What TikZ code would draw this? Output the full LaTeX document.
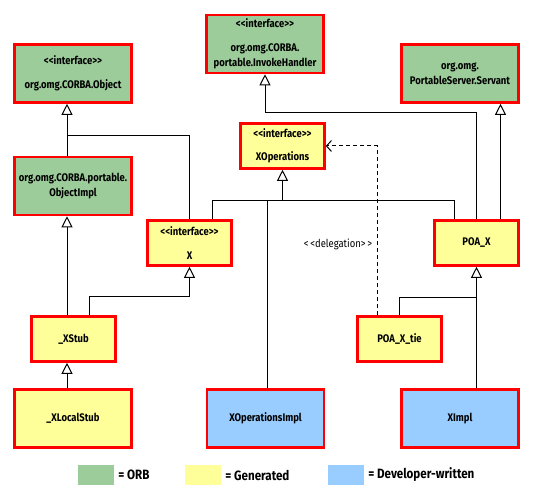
\documentclass[tikz,border=0pt]{standalone}
\usepackage{fontspec}
\setmainfont{Fira Sans}[FakeStretch=0.86]
\usetikzlibrary{arrows.meta,positioning,calc}
\definecolor{orbgreen}{RGB}{155,204,153}
\definecolor{genyellow}{RGB}{255,255,153}
\definecolor{devblue}{RGB}{153,204,255}
\newcommand\stereo[1]{<{}<#1>{}>}

\begin{document}
\begin{tikzpicture}[
  x=1pt, y=1pt,
  font=\fontsize{11}{15.5}\selectfont\bfseries,
  box/.style={draw=red, line width=2.6pt, align=center, inner sep=2pt},
  orb/.style={box, fill=orbgreen, minimum width=117pt, minimum height=58pt},
  gen/.style={box, fill=genyellow, minimum width=84pt, minimum height=45pt},
  genbig/.style={box, fill=genyellow, minimum width=117pt, minimum height=58pt},
  dev/.style={box, fill=devblue, minimum width=117pt, minimum height=58pt},
  link/.style={draw=black, line width=1pt},
  inh/.style={link, -{Triangle[open, length=11pt, width=11pt, line width=1pt]}},
  deleg/.style={link, dashed, dash pattern=on 4pt off 3pt, -{Straight Barb[length=5pt, width=11pt, line width=1pt]}},
  swatch/.style={minimum width=36pt, minimum height=20pt, inner sep=0pt},
  legtext/.style={font=\fontsize{13.5}{15}\selectfont\bfseries, inner sep=0pt},
]
\useasboundingbox (0,0) rectangle (535,500);

% ORB classes
\node[orb] (corbaobj) at (73,426.5) {\stereo{interface}\\[8pt]org.omg.CORBA.Object};
\node[orb] (objimpl) at (73,314) {org.omg.CORBA.portable.\\ObjectImpl};
\node[orb] (invoke) at (265,456) {\stereo{interface}\\[8pt]org.omg.CORBA.\\portable.InvokeHandler};
\node[orb] (servant) at (460,426.5) {org.omg.\\PortableServer.Servant};

% generated classes
\node[gen] (xops) at (282.5,354) {\stereo{interface}\\[8pt]XOperations};
\node[gen] (xif) at (189.5,257) {\stereo{interface}\\[8pt]X};
\node[gen] (poax) at (476.5,257) {POA\_X};
\node[gen] (xstub) at (73.5,161) {\_XStub};
\node[gen] (tie) at (399.5,161) {POA\_X\_tie};
\node[genbig] (localstub) at (73,81.5) {\_XLocalStub};

% developer-written classes
\node[dev] (opsimpl) at (265.5,81.5) {XOperationsImpl};
\node[dev] (ximpl) at (460,81.5) {XImpl};

% inheritance
\coordinate (objjoin) at ([xshift=-6pt, yshift=-32pt]corbaobj.south);
\draw[inh] ([xshift=-6pt]objimpl.north) -- ([xshift=-6pt]corbaobj.south);
\draw[link] (xif.north) |- (objjoin);
\draw[inh] ([xshift=-6.5pt]xstub.north) -- ([xshift=-6pt]objimpl.south);
\draw[inh] ([xshift=16pt]xstub.north) |- ([yshift=-30pt]xif.south) -- (xif.south);
\draw[inh] ([xshift=-6pt]localstub.north) -- ([xshift=-6.5pt]xstub.south);

\coordinate (opsjoin) at ([yshift=-31pt]xops.south);
\draw[inh] ([xshift=22.5pt]xif.north) |- (opsjoin) -- (xops.south);
\draw[link] ([xshift=-22pt]poax.north) |- (opsjoin);
\draw[link] ([xshift=1.5pt]opsimpl.north) -- ([xshift=1.5pt]opsimpl.north |- opsjoin);

\draw[inh] (poax.north) |- ([yshift=-38.5pt]invoke.south) -- (invoke.south);
\draw[inh] ([xshift=24pt]poax.north) -- ([xshift=24pt]poax.north |- servant.south);

\coordinate (poajoin) at ([yshift=-31pt]poax.south);
\draw[inh] (tie.north) |- (poajoin) -- (poax.south);
\draw[link] (ximpl.north -| poax.south) -- (poajoin);

% delegation
\draw[deleg] ([xshift=-22.5pt]tie.north) |- node[pos=0.21, left=1pt, font=\fontsize{11}{12}\selectfont] (deleglbl) {<\,<delegation>\,>} (xops.east);

% legend
\node[swatch, fill=orbgreen] (legorb) at (96,25) {};
\node[legtext, right=4pt of legorb] (legorbtxt) {= ORB};
\node[swatch, fill=genyellow] (leggen) at (203,25) {};
\node[legtext, right=4pt of leggen] (leggentxt) {= Generated};
\node[swatch, fill=devblue] (legdev) at (346,25) {};
\node[legtext, right=4pt of legdev] (legdevtxt) {= Developer-written};
\end{tikzpicture}
\end{document}
